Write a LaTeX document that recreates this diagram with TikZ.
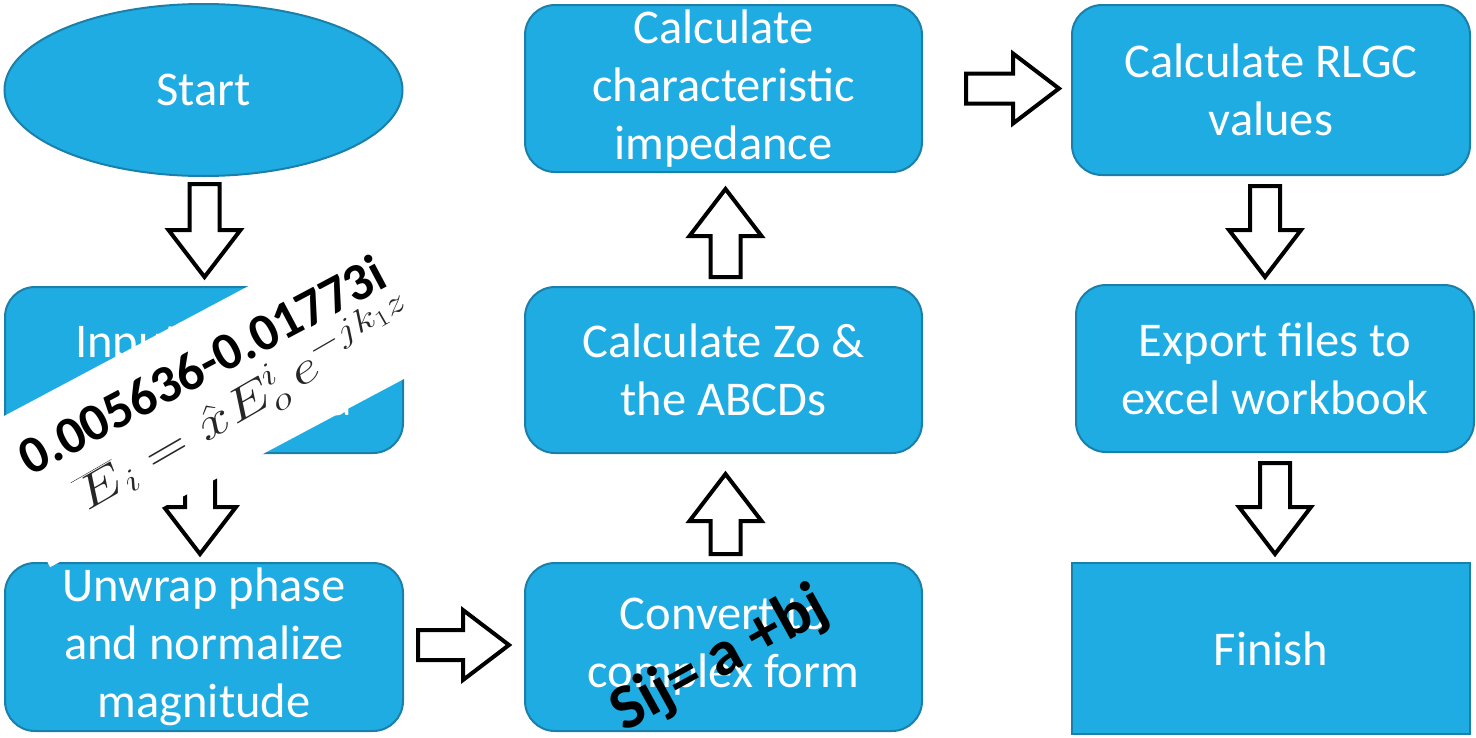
\RequirePackage{fix-cm}
\documentclass[tikz,border=0pt]{standalone}
\usepackage{fontspec}
\setmainfont{Carlito}
\usetikzlibrary{shapes.geometric,calc}
\definecolor{boxfill}{RGB}{31,172,226}
\definecolor{boxline}{RGB}{26,128,170}
\tikzset{
  box/.style={draw=boxline, line width=2pt, fill=boxfill, text=white,
    font=\fontsize{48.5}{58}\selectfont, align=center,
    minimum width=398pt, minimum height=167pt, rounded corners=30pt, inner sep=0pt},
  startbox/.style={box, ellipse, minimum height=172pt, rounded corners=0pt},
  endbox/.style={box, rounded corners=0pt, minimum height=171pt},
  barrow/.style={draw=black, fill=white, line width=4pt, line join=miter},
  band/.style={fill=white, minimum width=448pt, minimum height=155pt, inner sep=0pt},
  overtext/.style={text=black, inner sep=0pt, font=\bfseries\fontsize{53}{60}\selectfont}
}
\newcommand\darrow[2]{\draw[barrow] let \p1=(#1), \p2=(#2) in
  (\x1-15pt,\y1) -- (\x1+15pt,\y1) -- (\x1+15pt,\y2+47pt) -- (\x1+36pt,\y2+47pt)
  -- (\x1,\y2) -- (\x1-36pt,\y2+47pt) -- (\x1-15pt,\y2+47pt) -- cycle;}
\newcommand\uarrow[2]{\draw[barrow] let \p1=(#1), \p2=(#2) in
  (\x1-15pt,\y1) -- (\x1-15pt,\y2-47pt) -- (\x1-36pt,\y2-47pt) -- (\x1,\y2)
  -- (\x1+36pt,\y2-47pt) -- (\x1+15pt,\y2-47pt) -- (\x1+15pt,\y1) -- cycle;}
\newcommand\rarrow[2]{\draw[barrow] let \p1=(#1), \p2=(#2) in
  (\x1,\y1+15pt) -- (\x2-46pt,\y1+15pt) -- (\x2-46pt,\y1+35pt) -- (\x2,\y1)
  -- (\x2-46pt,\y1-35pt) -- (\x2-46pt,\y1-15pt) -- (\x1,\y1-15pt) -- cycle;}
\begin{document}
\begin{tikzpicture}[x=1pt,y=-1pt]
\clip (0,0) rectangle (1476,737);
\fill[white] (0,0) rectangle (1476,737);

\node[startbox] (start) at (203.5,90) {Start};
\node[box, minimum height=166pt] (input) at (204,370) {Input sample\\measured data};
\node[box, minimum height=168pt] (unwrap) at (204,647) {Unwrap phase\\and normalize\\magnitude};
\node[box, minimum height=168pt, minimum width=397pt] (convert) at (723.5,647) {Convert to\\complex form};
\node[box, minimum height=166pt, minimum width=397pt] (zo) at (723.5,370) {Calculate Zo \&\\the ABCDs};
\node[box, minimum width=397pt] (charimp) at (723.5,88.5) {Calculate\\characteristic\\impedance};
\node[box, minimum height=170pt] (rlgc) at (1271,90) {Calculate RLGC\\values};
\node[box] (export) at (1275,368.5) {Export files to\\excel workbook};
\node[endbox] (finish) at (1271,648.5) {Finish};

\coordinate (a1s) at ($(start.south)+(1,7)$);
\coordinate (a1e) at ($(input.north)+(1,-9)$);
\coordinate (a2s) at ($(input.south)+(-4,12)$);
\coordinate (a2e) at ($(unwrap.north)+(-4,-8)$);
\coordinate (a3s) at ($(unwrap.east)+(14,-2)$);
\coordinate (a3e) at ($(convert.west)+(-15,-2)$);
\coordinate (a4s) at ($(convert.north)+(2,-8)$);
\coordinate (a4e) at ($(zo.south)+(2,20)$);
\coordinate (a5s) at ($(zo.north)+(2,-9)$);
\coordinate (a5e) at ($(charimp.south)+(2,16)$);
\coordinate (a6s) at ($(charimp.east)+(43,0)$);
\coordinate (a6e) at ($(rlgc.west)+(-12,-2)$);
\coordinate (a7s) at ($(rlgc.south)+(-6,10)$);
\coordinate (a7e) at ($(export.north)+(-10,-7)$);
\coordinate (a8s) at ($(export.south)+(0,10)$);
\coordinate (a8e) at ($(finish.north)+(4,-8)$);

\darrow{a1s}{a1e}
\darrow{a2s}{a2e}
\rarrow{a3s}{a3e}
\uarrow{a4s}{a4e}
\uarrow{a5s}{a5e}
\rarrow{a6s}{a6e}
\darrow{a7s}{a7e}
\darrow{a8s}{a8e}

\node[band, rotate=28] (bandbox) at (211.5,393.5) {};
\node[overtext, rotate=28, xshift=5pt, yshift=30pt] (num) at (bandbox.center) {0.005636-0.01773i};
\node[text=black!85, inner sep=0pt, font=\fontsize{46}{50}\selectfont, rotate=30, xshift=24pt, yshift=-26pt, xscale=1.3] (formula) at (bandbox.center)
  {$\overline{E}_i = \hat{x}E_o^{i}\,e^{-jk_1z}$};
\node[overtext, font=\bfseries\fontsize{64}{70}\selectfont, rotate=29] (sij) at (720,660) {Sij= a +bj};
\end{tikzpicture}
\end{document}
